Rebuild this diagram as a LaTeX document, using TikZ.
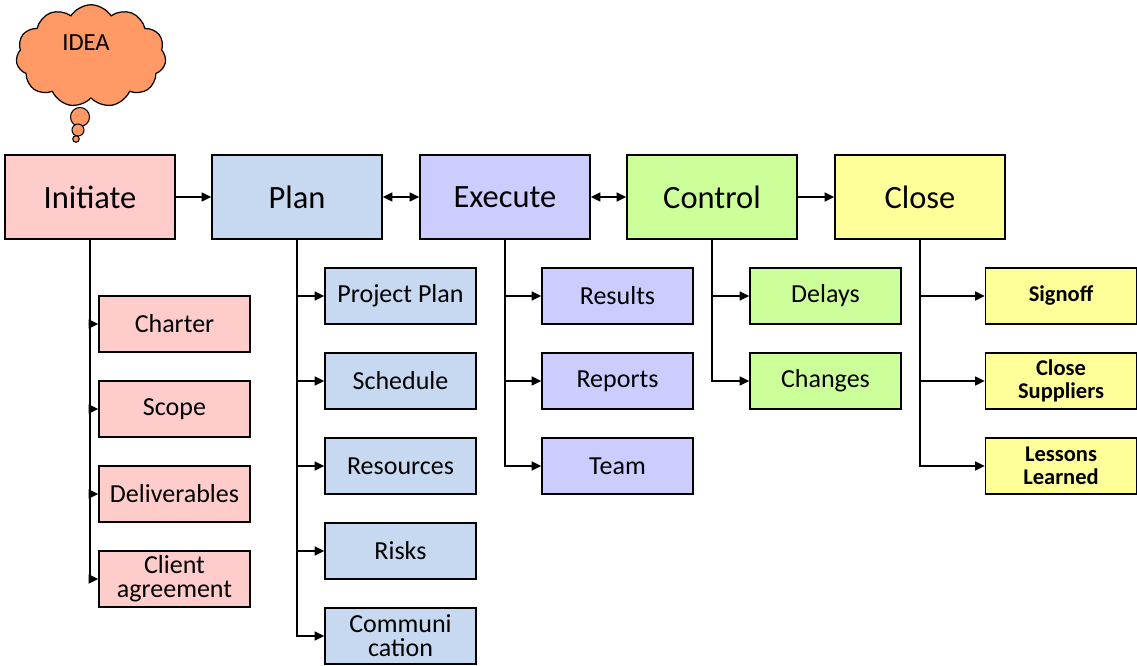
\documentclass[tikz,border=0pt]{standalone}
\usepackage{fontspec}
\setmainfont{Carlito}
\usetikzlibrary{arrows.meta,shapes.symbols}
\definecolor{initcol}{HTML}{FFCCCC}
\definecolor{plancol}{HTML}{C6D9F1}
\definecolor{execcol}{HTML}{CCCCFF}
\definecolor{ctrlcol}{HTML}{CCFF99}
\definecolor{closecol}{HTML}{FFFF99}
\definecolor{ideacol}{HTML}{FF9966}
\begin{document}
\begin{tikzpicture}[x=0.02cm,y=-0.02cm,
	phase/.style={draw, line width=0.8pt, minimum width=3.4cm, minimum height=1.68cm, font=\fontsize{18.5}{22}\selectfont},
	task/.style={draw, line width=0.8pt, minimum width=3.02cm, minimum height=1.12cm, align=center, inner sep=1pt, font=\fontsize{14.8}{13.6}\selectfont},
	endtask/.style={task, font=\bfseries\fontsize{12.8}{13.4}\selectfont},
	bubble/.style={circle, draw, fill=ideacol, line width=0.6pt, inner sep=0pt},
	link/.style={line width=1.1pt, -{Triangle[length=5.5pt,width=5pt]}},
	twolink/.style={line width=1.1pt, {Triangle[length=5.5pt,width=5pt]}-{Triangle[length=5.5pt,width=5pt]}}]
	\useasboundingbox (0,0) rectangle (1137,666);
	% the idea cloud
	\node[cloud, cloud puffs=11, cloud puff arc=115, aspect=1.5, draw, line width=0.7pt, fill=ideacol, minimum width=3.0cm, minimum height=2.05cm] (idea) at (91,56) {};
	\node[font=\fontsize{14}{16}\selectfont] (ideatext) at (86,43) {IDEA};
	\node[bubble, minimum size=0.38cm] (b1) at (80,117) {};
	\node[bubble, minimum size=0.24cm] (b2) at (78,130) {};
	\node[bubble, minimum size=0.13cm] (b3) at (76,139) {};
	% phases
	\node[phase, fill=initcol] (init) at (90,197) {Initiate};
	\node[phase, fill=plancol] (plan) at (297,197) {Plan};
	\node[phase, fill=execcol] (exec) at (505,197) {Execute};
	\node[phase, fill=ctrlcol] (ctrl) at (712,197) {Control};
	\node[phase, fill=closecol] (close) at (920,197) {Close};
	\draw[link] (init) -- (plan);
	\draw[twolink] (plan) -- (exec);
	\draw[twolink] (exec) -- (ctrl);
	\draw[link] (ctrl) -- (close);
	% initiate
	\node[task, fill=initcol] (charter) at (174.5,324) {Charter};
	\node[task, fill=initcol] (scope) at (174.5,409) {Scope};
	\node[task, fill=initcol] (deliv) at (174.5,494) {Deliverables};
	\node[task, fill=initcol] (client) at (174.5,579) {Client\\agreement};
	\draw[link] (init.south) |- (charter.west);
	\draw[link] (init.south) |- (scope.west);
	\draw[link] (init.south) |- (deliv.west);
	\draw[link] (init.south) |- (client.west);
	% plan
	\node[task, fill=plancol] (pplan) at (400.5,296) {Project Plan};
	\node[task, fill=plancol] (sched) at (400.5,381) {Schedule};
	\node[task, fill=plancol] (resour) at (400.5,466) {Resources};
	\node[task, fill=plancol] (risks) at (400.5,551) {Risks};
	\node[task, fill=plancol] (comm) at (400.5,636) {Communi\\cation};
	\draw[link] (plan.south) |- (pplan.west);
	\draw[link] (plan.south) |- (sched.west);
	\draw[link] (plan.south) |- (resour.west);
	\draw[link] (plan.south) |- (risks.west);
	\draw[link] (plan.south) |- (comm.west);
	% execute
	\node[task, fill=execcol] (results) at (617.5,296) {Results};
	\node[task, fill=execcol] (reports) at (617.5,381) {Reports};
	\node[task, fill=execcol] (team) at (617.5,466) {Team};
	\draw[link] (exec.south) |- (results.west);
	\draw[link] (exec.south) |- (reports.west);
	\draw[link] (exec.south) |- (team.west);
	% control
	\node[task, fill=ctrlcol] (delays) at (825.5,296) {Delays};
	\node[task, fill=ctrlcol] (changes) at (825.5,381) {Changes};
	\draw[link] (ctrl.south) |- (delays.west);
	\draw[link] (ctrl.south) |- (changes.west);
	% close
	\node[endtask, fill=closecol] (signoff) at (1061,296) {Signoff};
	\node[endtask, fill=closecol] (supp) at (1061,381) {Close\\Suppliers};
	\node[endtask, fill=closecol] (lessons) at (1061,466) {Lessons\\Learned};
	\draw[link] (close.south) |- (signoff.west);
	\draw[link] (close.south) |- (supp.west);
	\draw[link] (close.south) |- (lessons.west);
\end{tikzpicture}
\end{document}
